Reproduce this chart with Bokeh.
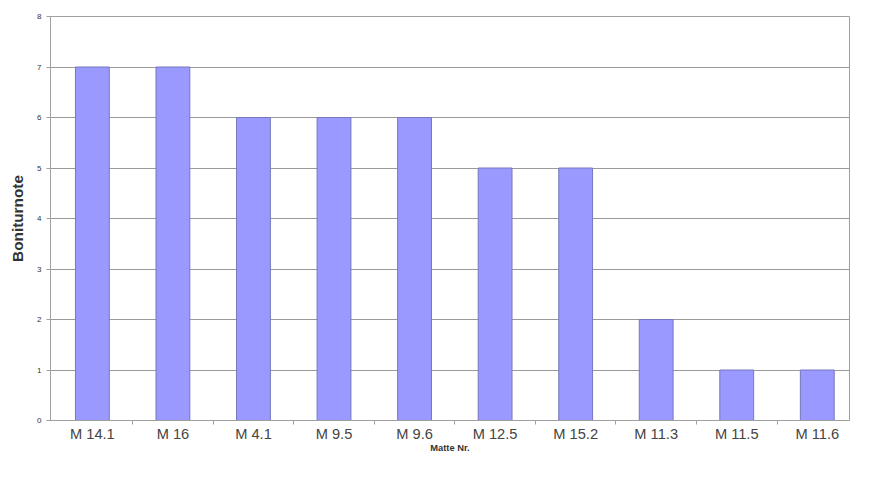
from bokeh.plotting import figure
from bokeh.models import ColumnDataSource, Range1d, FixedTicker
from bokeh.embed import file_html
from bokeh.resources import INLINE

categories = ["M 14.1", "M 16", "M 4.1", "M 9.5", "M 9.6", "M 12.5", "M 15.2", "M 11.3", "M 11.5", "M 11.6"]
values = [7, 7, 6, 6, 6, 5, 5, 2, 1, 1]
y_ticks = [0, 1, 2, 3, 4, 5, 6, 7, 8]

positions = list(range(len(categories)))
boundaries = [i + 0.5 for i in positions[:-1]]
src = ColumnDataSource(data=dict(x=positions, cat=categories, val=values))

p = figure(x_range=Range1d(-0.52, 9.40), y_range=Range1d(0, 8),
           width=880, height=484, frame_width=799, frame_height=404,
           min_border_left=50, min_border_right=31, min_border_top=16, min_border_bottom=64,
           output_backend="svg", toolbar_location=None, background_fill_color="white")

p.vbar(x="x", top="val", width=0.42, source=src,
       fill_color="#9999ff", line_color="#7777bb", line_width=1)

p.outline_line_color = "#a0a0a0"
p.xgrid.grid_line_color = None
p.ygrid.grid_line_color = "#9a9a9a"
p.ygrid.grid_line_width = 1
p.yaxis.ticker = FixedTicker(ticks=y_ticks)

p.yaxis.axis_label = "Boniturnote"
p.yaxis.axis_label_text_font = "Liberation Sans"
p.yaxis.axis_label_text_font_size = "11.5pt"
p.yaxis.axis_label_text_font_style = "bold"
p.yaxis.axis_label_text_color = "#333333"
p.yaxis.axis_label_standoff = 8
p.yaxis.major_label_text_font_size = "6pt"
p.yaxis.major_label_text_font = "Liberation Sans"
p.yaxis.major_label_text_color = "#333333"
p.yaxis.axis_line_color = "#a0a0a0"
p.yaxis.major_tick_line_color = "#a0a0a0"
p.yaxis.major_tick_out = 4
p.yaxis.major_tick_in = 0
p.yaxis.minor_tick_line_color = None

p.xaxis.ticker = FixedTicker(ticks=positions, minor_ticks=boundaries)
p.xaxis.major_label_overrides = {i: c for i, c in zip(positions, categories)}
p.xaxis.axis_label = "Matte Nr."
p.xaxis.axis_label_text_font = "Liberation Sans"
p.xaxis.axis_label_text_font_size = "7pt"
p.xaxis.axis_label_text_font_style = "bold"
p.xaxis.axis_label_text_color = "#333333"
p.xaxis.axis_label_standoff = -2
p.xaxis.major_label_text_font_size = "11pt"
p.xaxis.major_label_text_font = "Liberation Sans"
p.xaxis.major_label_text_color = "#444444"
p.xaxis.major_label_standoff = -1
p.xaxis.axis_line_color = "#a0a0a0"
p.xaxis.major_tick_line_color = None
p.xaxis.minor_tick_line_color = "#a0a0a0"
p.xaxis.minor_tick_out = 4
p.xaxis.minor_tick_in = 0

open("out.html", "w").write(file_html(p, INLINE))
